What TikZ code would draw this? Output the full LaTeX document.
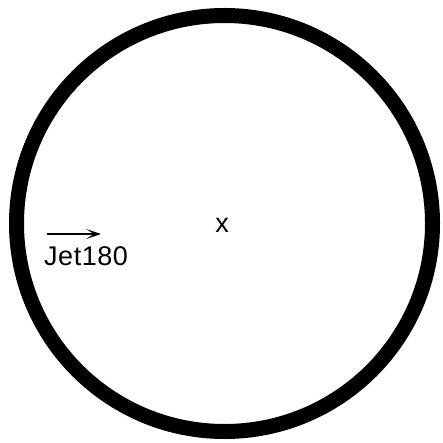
\documentclass[tikz,border=0pt]{standalone}
\usepackage{fontspec}
\setmainfont{Liberation Sans}
\usetikzlibrary{arrows.meta}
\begin{document}
\begin{tikzpicture}[x=1pt,y=-1pt,
  lbl/.style={inner sep=0pt,font=\fontsize{27}{31}\selectfont},
  ring/.style={line width=15pt,draw=black}]
\useasboundingbox (0,0) rectangle (442,443);
\fill[white] (0,0) rectangle (442,443);
\coordinate (c) at (224.5,223.5);
\draw[ring] (c) circle[radius=208];
\node[lbl,anchor=base] (x) at (222,232) {x};
\coordinate (a1) at (47,234);
\coordinate (a2) at (101,234);
\draw[line width=1.3pt,-{Stealth[length=15pt,width=10pt,inset=8pt]}] (a1) -- (a2);
\node[lbl,anchor=base west] (jet) at (44,265) {\addfontfeatures{LetterSpace=2}Jet180};
\end{tikzpicture}
\end{document}
